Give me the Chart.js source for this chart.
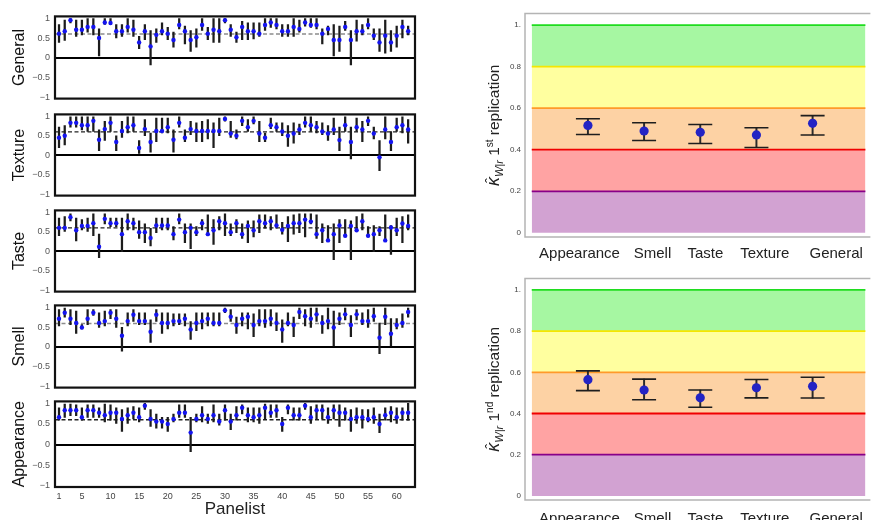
<!DOCTYPE html>
<html>
<head>
<meta charset="utf-8">
<script src="https://cdn.jsdelivr.net/npm/chart.js@4.4.0/dist/chart.umd.min.js"></script>
<style>
  html, body { margin: 0; padding: 0; background: #fff; overflow: hidden; }
  body { width: 879px; height: 520px; position: relative; }
  canvas { position: absolute; }
</style>
</head>
<body>
<canvas id="cGeneral" width="420" height="103" style="left:0;top:6px"></canvas>
<canvas id="cTexture" width="420" height="102" style="left:0;top:104px"></canvas>
<canvas id="cTaste" width="420" height="102" style="left:0;top:200px"></canvas>
<canvas id="cSmell" width="420" height="103" style="left:0;top:295px"></canvas>
<canvas id="cAppearance" width="420" height="129" style="left:0;top:391px"></canvas>
<canvas id="cRep1" width="419" height="265" style="left:460px;top:0"></canvas>
<canvas id="cRep2" width="419" height="255" style="left:460px;top:265px"></canvas>
<script>
// ---- data: kappa per panelist (point, lower, upper) ----
const panelists = Array.from({ length: 62 }, (_, i) => i + 1);
const panelistTicks = [1, 5, 10, 15, 20, 25, 30, 35, 40, 45, 50, 55, 60];
const kappaTicks = [-1, -0.5, 0, 0.5, 1];

const generalVal = [0.61,0.67,0.95,0.71,0.71,0.78,0.78,0.50,0.89,0.88,0.67,0.67,0.78,0.71,0.39,0.67,0.29,0.58,0.67,0.61,0.45,0.83,0.67,0.45,0.52,0.83,0.61,0.71,0.67,0.95,0.71,0.52,0.78,0.67,0.67,0.61,0.83,0.89,0.83,0.67,0.67,0.78,0.73,0.89,0.83,0.83,0.61,0.73,0.45,0.45,0.78,0.45,0.67,0.67,0.83,0.56,0.39,0.56,0.39,0.56,0.78,0.67];
const generalLo = [0.39,0.44,0.88,0.54,0.58,0.65,0.58,0.05,0.84,0.84,0.50,0.54,0.65,0.54,0.23,0.46,-0.18,0.39,0.58,0.46,0.27,0.73,0.35,0.16,0.27,0.69,0.46,0.39,0.39,0.88,0.54,0.39,0.46,0.46,0.48,0.54,0.69,0.77,0.73,0.54,0.54,0.54,0.65,0.80,0.77,0.73,0.35,0.58,0.05,0.16,0.69,-0.18,0.42,0.58,0.73,0.46,0.16,0.12,0.16,0.27,0.50,0.58];
const generalHi = [0.84,0.95,0.99,0.95,0.95,0.99,0.99,0.73,0.99,0.99,0.84,0.84,0.99,0.95,0.54,0.84,0.69,0.73,0.88,0.77,0.65,0.99,0.80,0.69,0.73,0.99,0.77,0.99,0.99,0.99,0.84,0.65,0.92,0.88,0.88,0.88,0.99,0.99,0.99,0.84,0.84,0.99,0.95,0.99,0.99,0.99,0.73,0.80,0.84,0.80,0.92,0.69,0.95,0.84,0.99,0.73,0.73,0.95,0.69,0.80,0.95,0.80];

const textureVal = [0.45,0.50,0.83,0.83,0.77,0.77,0.88,0.40,0.67,0.83,0.34,0.62,0.72,0.77,0.19,0.67,0.34,0.62,0.62,0.72,0.40,0.83,0.45,0.67,0.62,0.62,0.62,0.62,0.62,0.93,0.56,0.50,0.88,0.72,0.88,0.56,0.45,0.77,0.72,0.61,0.50,0.56,0.66,0.83,0.77,0.72,0.61,0.56,0.66,0.39,0.77,0.34,0.72,0.66,0.88,0.56,-0.05,0.66,0.34,0.72,0.77,0.66];
const textureLo = [0.20,0.27,0.72,0.72,0.65,0.61,0.61,0.12,0.38,0.61,0.12,0.46,0.57,0.61,0.05,0.50,0.08,0.35,0.57,0.57,0.08,0.72,0.35,0.53,0.35,0.35,0.42,0.20,0.50,0.87,0.46,0.42,0.76,0.61,0.80,0.35,0.35,0.68,0.61,0.50,0.23,0.31,0.53,0.72,0.61,0.57,0.53,0.38,0.53,0.12,0.61,-0.09,0.61,0.35,0.76,0.42,-0.39,0.42,0.12,0.61,0.57,0.31];
const textureHi = [0.72,0.76,0.98,0.98,0.98,0.98,0.98,0.65,0.87,0.98,0.50,0.87,0.98,0.98,0.38,0.91,0.57,0.95,0.95,0.95,0.65,0.98,0.65,0.87,0.83,0.87,0.91,0.83,0.95,0.98,0.87,0.65,0.98,0.91,0.98,0.87,0.57,0.95,0.83,0.83,0.76,0.83,0.80,0.98,0.98,0.87,0.83,0.76,0.95,0.72,0.98,0.72,0.95,0.87,0.98,0.72,0.38,0.98,0.61,0.95,0.98,0.91];

const tasteVal = [0.60,0.60,0.87,0.54,0.65,0.65,0.72,0.12,0.83,0.72,0.72,0.44,0.77,0.72,0.49,0.49,0.34,0.66,0.66,0.66,0.44,0.81,0.49,0.60,0.49,0.72,0.44,0.54,0.77,0.72,0.49,0.72,0.44,0.65,0.54,0.77,0.72,0.77,0.66,0.55,0.65,0.72,0.72,0.81,0.76,0.44,0.54,0.28,0.44,0.66,0.40,0.65,0.54,0.77,0.40,0.44,0.54,0.28,0.61,0.54,0.71,0.65];
const tasteLo = [0.40,0.51,0.78,0.27,0.55,0.51,0.40,-0.16,0.70,0.63,0.63,-0.01,0.55,0.55,0.33,0.22,0.14,0.48,0.55,0.55,0.29,0.70,0.22,0.07,0.40,0.55,0.44,0.18,0.55,0.40,0.40,0.48,0.33,0.22,0.37,0.48,0.59,0.55,0.59,0.44,0.25,0.44,0.48,0.37,0.70,0.33,0.22,0.25,-0.21,0.22,0.37,-0.21,0.51,0.55,0.37,-0.01,0.40,0.25,-0.08,0.40,0.22,0.55];
const tasteHi = [0.85,0.89,0.96,0.85,0.81,0.85,0.96,0.44,0.96,0.85,0.85,0.85,0.96,0.85,0.78,0.70,0.59,0.85,0.85,0.85,0.63,0.96,0.70,0.70,0.63,0.81,0.93,0.81,0.89,0.96,0.70,0.81,0.70,0.78,0.78,0.93,0.93,0.89,0.93,0.74,0.89,0.93,0.96,0.96,0.96,0.93,0.70,0.66,0.70,0.81,0.81,0.78,0.89,0.96,0.63,0.66,0.63,0.93,0.66,0.85,0.89,0.93];

const smellVal = [0.71,0.86,0.71,0.60,0.49,0.71,0.86,0.60,0.65,0.86,0.71,0.28,0.65,0.81,0.65,0.65,0.38,0.81,0.60,0.60,0.65,0.65,0.71,0.44,0.60,0.65,0.71,0.60,0.60,0.92,0.76,0.55,0.71,0.76,0.55,0.65,0.65,0.71,0.60,0.44,0.60,0.55,0.88,0.77,0.71,0.82,0.60,0.65,0.49,0.71,0.82,0.55,0.82,0.65,0.65,0.77,0.23,0.76,0.33,0.55,0.60,0.88];
const smellLo = [0.53,0.75,0.56,0.34,0.45,0.56,0.79,0.49,0.53,0.71,0.49,-0.11,0.53,0.64,0.56,0.56,0.11,0.64,0.34,0.45,0.53,0.56,0.53,0.19,0.41,0.45,0.53,0.53,0.53,0.86,0.64,0.34,0.53,0.45,0.26,0.53,0.49,0.53,0.41,0.11,0.53,0.26,0.71,0.53,0.49,0.64,0.34,0.45,0.00,0.56,0.68,0.26,0.68,0.56,0.49,0.64,-0.17,0.56,0.00,0.45,0.49,0.75];
const smellHi = [0.94,0.98,0.94,0.90,0.56,0.94,0.94,0.86,0.90,0.94,0.94,0.49,0.86,0.94,0.86,0.86,0.68,0.94,0.86,0.86,0.83,0.83,0.83,0.64,0.86,0.86,0.86,0.86,0.86,0.98,0.94,0.75,0.86,0.86,0.83,0.94,0.94,0.94,0.86,0.68,0.86,0.75,0.98,0.94,0.98,0.98,0.79,0.98,0.90,0.86,0.98,0.79,0.94,0.86,0.94,0.98,0.60,0.98,0.71,0.71,0.83,0.98];

const appearanceVal = [0.66,0.83,0.83,0.83,0.66,0.83,0.83,0.77,0.71,0.77,0.77,0.62,0.71,0.77,0.66,0.94,0.62,0.56,0.56,0.50,0.62,0.77,0.77,0.29,0.62,0.71,0.62,0.71,0.56,0.83,0.56,0.71,0.89,0.71,0.66,0.71,0.89,0.77,0.83,0.50,0.89,0.71,0.71,0.94,0.66,0.83,0.83,0.66,0.83,0.77,0.77,0.62,0.66,0.66,0.62,0.66,0.50,0.71,0.77,0.66,0.77,0.77];
const appearanceLo = [0.59,0.66,0.70,0.70,0.59,0.66,0.66,0.66,0.55,0.59,0.51,0.32,0.51,0.62,0.55,0.85,0.44,0.40,0.40,0.32,0.55,0.66,0.66,-0.17,0.55,0.55,0.51,0.55,0.47,0.59,0.36,0.59,0.74,0.55,0.55,0.51,0.62,0.66,0.66,0.32,0.74,0.59,0.59,0.85,0.51,0.62,0.62,0.51,0.62,0.44,0.59,0.32,0.51,0.40,0.55,0.51,0.29,0.59,0.55,0.51,0.59,0.59];
const appearanceHi = [0.89,0.98,0.98,0.96,0.89,0.96,0.96,0.89,0.98,0.96,0.89,0.85,0.89,0.92,0.89,1.00,0.85,0.74,0.66,0.66,0.74,0.96,0.96,0.66,0.74,0.92,0.74,0.96,0.74,0.96,0.74,0.92,0.96,0.89,0.89,0.89,0.98,0.96,0.96,0.66,0.96,0.89,0.89,1.00,0.92,0.96,0.96,0.89,0.96,0.96,0.89,0.85,0.89,0.85,0.85,0.89,0.74,0.89,0.92,0.89,0.89,1.00];

// overall mean kappa per attribute (dashed line)
const meanGeneral = 0.6, meanTexture = 0.6, meanTaste = 0.6, meanSmell = 0.59, meanAppearance = 0.6;

// ---- data: overall kappa per replication ----
const attributes = ["Appearance", "Smell", "Taste", "Texture", "General"];
const rep1Val = [0.517, 0.490, 0.484, 0.471, 0.527];
const rep1Lo = [0.473, 0.444, 0.430, 0.411, 0.471];
const rep1Hi = [0.549, 0.530, 0.521, 0.506, 0.564];
const rep2Val = [0.564, 0.514, 0.476, 0.525, 0.532];
const rep2Lo = [0.511, 0.467, 0.430, 0.476, 0.475];
const rep2Hi = [0.607, 0.567, 0.514, 0.565, 0.576];
const bandLimits = [1, 0.8, 0.6, 0.4, 0.2, 0];
const repTicks = [0, 0.2, 0.4, 0.6, 0.8, 1];

// styling
const FONT = "'Liberation Sans', Arial, sans-serif";
Chart.defaults.font.family = FONT;
Chart.defaults.animation = false;
const bandFill = ["#a6f7a2", "#ffff9f", "#fdd2a4", "#ffa3a3", "#d2a2d2"];
const bandLine = ["#1fdc1f", "#f5e600", "#ff9a2a", "#f00000", "#880088", "rgba(0,0,0,0)"];
const labelPos = [0.85, 2.15, 3.09, 4.15, 5.42];

const framePlugin = {
  id: "frame",
  afterDatasetsDraw(chart, args, opts) {
    const { ctx, chartArea: a } = chart;
    ctx.save();
    ctx.strokeStyle = opts.color;
    ctx.lineWidth = opts.width;
    if (opts.open) {
      ctx.beginPath();
      ctx.moveTo(a.right + 5, a.top);
      ctx.lineTo(a.left, a.top);
      ctx.lineTo(a.left, a.bottom);
      ctx.lineTo(a.right + 5, a.bottom);
      ctx.stroke();
    } else {
      ctx.strokeRect(a.left, a.top, a.right - a.left, a.bottom - a.top);
    }
    ctx.restore();
  },
};

const kappaTitle = {
  id: "kappaTitle",
  afterDraw(chart, args, opts) {
    const { ctx, chartArea: a } = chart;
    const parts = [
      { t: "\u03BA", f: "italic 18px " + FONT, dy: 0 },
      { t: "W|r", f: "italic 11px " + FONT, dy: 4 },
      { t: " 1", f: "15.5px " + FONT, dy: 0 },
      { t: opts.sup, f: "10px " + FONT, dy: -6 },
      { t: " replication", f: "15.5px " + FONT, dy: 0 },
    ];
    ctx.save();
    ctx.translate(opts.x, (a.top + a.bottom) / 2);
    ctx.rotate(-Math.PI / 2);
    let total = 0;
    parts.forEach((p) => { ctx.font = p.f; p.w = ctx.measureText(p.t).width; total += p.w; });
    let cx = -total / 2;
    ctx.fillStyle = "#222";
    ctx.textBaseline = "alphabetic";
    parts.forEach((p, i) => {
      ctx.font = p.f;
      ctx.fillText(p.t, cx, p.dy);
      if (i === 0) {
        ctx.font = "15px " + FONT;
        const hw = ctx.measureText("\u02C6").width;
        ctx.fillText("\u02C6", cx + (p.w - hw) / 2 + 1, -3);
      }
      cx += p.w;
    });
    ctx.restore();
  },
};

function panelistChart(id, title, vals, lo, hi, mean, meanColor, showX) {
  const ctx = document.getElementById(id).getContext("2d");
  return new Chart(ctx, {
    type: "scatter",
    data: {
      datasets: [
        {
          type: "scatter",
          data: panelists.map((p, i) => ({ x: p, y: vals[i] })),
          pointRadius: 2.2,
          pointBackgroundColor: "#1414f0",
          pointBorderWidth: 0,
          order: 0,
        },
        {
          type: "bar",
          data: panelists.map((p, i) => ({ x: p, y: [lo[i], hi[i]] })),
          backgroundColor: "#1c1c1c",
          barThickness: 1.6,
          order: 1,
        },
        {
          type: "line",
          data: [{ x: 0.3, y: mean }, { x: 63.2, y: mean }],
          borderColor: meanColor,
          borderWidth: 1.4,
          borderDash: [4, 2.5],
          pointRadius: 0,
          order: 2,
        },
      ],
    },
    options: {
      responsive: false,
      layout: { padding: { top: 6, bottom: showX ? 0 : 6, left: 0, right: 5 } },
      plugins: {
        legend: { display: false },
        tooltip: { enabled: false },
        frame: { color: "#111", width: 2.2 },
      },
      scales: {
        x: {
          type: "linear",
          min: 0.3,
          max: 63.2,
          offset: false,
          display: showX,
          grid: { display: false, drawTicks: false },
          border: { display: false },
          afterBuildTicks: (s) => { s.ticks = panelistTicks.map((v) => ({ value: v })); },
          afterFit: (s) => { s.height = showX ? 33 : 0; },
          ticks: { font: { size: 9 }, color: "#444", padding: 4, maxRotation: 0, autoSkip: false },
          title: { display: true, text: "Panelist", font: { size: 17 }, color: "#222", padding: { top: 0, bottom: 0 } },
        },
        y: {
          min: -1.025,
          max: 1.045,
          afterBuildTicks: (s) => { s.ticks = kappaTicks.map((v) => ({ value: v })); },
          afterFit: (s) => { s.width = 55; },
          grid: {
            color: (c) => (c.tick && c.tick.value === 0 ? "#000" : "rgba(0,0,0,0)"),
            lineWidth: 2,
            drawTicks: false,
          },
          border: { display: false },
          ticks: {
            font: { size: 9 },
            color: "#555",
            padding: 5,
            autoSkip: false,
            callback: (v) => (v < 0 ? "\u2212" + Math.abs(v) : String(v)),
          },
          title: { display: true, text: title, font: { size: 16 }, color: "#111", padding: { top: 10, bottom: 0 } },
        },
      },
    },
    plugins: [framePlugin],
  });
}

function replicationChart(id, vals, lo, hi, sup, padTop, axisH, tickPad) {
  const ctx = document.getElementById(id).getContext("2d");
  const bands = bandLimits.map((t, i) => ({
    type: "line",
    data: [{ x: 0, y: t }, { x: 6.2, y: t }],
    borderColor: bandLine[i],
    borderWidth: i < 5 ? 1.8 : 0,
    backgroundColor: bandFill[i] || "rgba(0,0,0,0)",
    fill: i < 5 ? "+1" : false,
    pointRadius: 0,
    order: 10,
  }));
  const xs = attributes.map((_, i) => i + 1);
  return new Chart(ctx, {
    type: "scatter",
    data: {
      datasets: [
        {
          type: "scatter",
          data: xs.map((x, i) => ({ x: x, y: vals[i] })),
          pointRadius: 4.6,
          pointBackgroundColor: "#2323c4",
          pointBorderWidth: 0,
          order: 0,
        },
        {
          type: "scatter",
          data: xs.map((x, i) => ({ x: x, y: lo[i] })),
          pointStyle: "line",
          pointRadius: 12,
          pointBorderColor: "#1e1e1e",
          pointBorderWidth: 1.6,
          order: 1,
        },
        {
          type: "scatter",
          data: xs.map((x, i) => ({ x: x, y: hi[i] })),
          pointStyle: "line",
          pointRadius: 12,
          pointBorderColor: "#1e1e1e",
          pointBorderWidth: 1.6,
          order: 1,
        },
        {
          type: "bar",
          data: xs.map((x, i) => ({ x: x, y: [lo[i], hi[i]] })),
          backgroundColor: "#2a2a2a",
          barThickness: 1.3,
          order: 2,
        },
        ...bands,
      ],
    },
    options: {
      responsive: false,
      layout: { padding: { top: padTop, bottom: 0, left: 0, right: 0 } },
      plugins: {
        legend: { display: false },
        tooltip: { enabled: false },
        filler: { drawTime: "beforeDatasetsDraw" },
        frame: { color: "#b4b4b4", width: 1.5, open: true },
        kappaTitle: { x: 39, sup: sup },
      },
      scales: {
        x: {
          type: "linear",
          min: -0.12,
          max: 5.94,
          offset: false,
          grid: { display: false, drawTicks: false },
          border: { display: false },
          afterBuildTicks: (s) => { s.ticks = labelPos.map((v) => ({ value: v })); },
          afterFit: (s) => { s.height = axisH; },
          ticks: {
            font: { size: 15 },
            color: "#222",
            padding: tickPad,
            maxRotation: 0,
            autoSkip: false,
            callback: (v, i) => attributes[i],
          },
        },
        y: {
          min: -0.02,
          max: 1.055,
          afterBuildTicks: (s) => { s.ticks = repTicks.map((v) => ({ value: v })); },
          afterFit: (s) => { s.width = 65; },
          grid: { display: false, drawTicks: false },
          border: { display: false },
          ticks: {
            font: { size: 8 },
            color: "#444",
            padding: 4,
            autoSkip: false,
            callback: (v) => (v === 1 ? "1." : String(v)),
          },
        },
      },
    },
    plugins: [framePlugin, kappaTitle],
  });
}

const chartGeneral = panelistChart("cGeneral", "General", generalVal, generalLo, generalHi, meanGeneral, "#8c8c8c", false);
const chartTexture = panelistChart("cTexture", "Texture", textureVal, textureLo, textureHi, meanTexture, "#222", false);
const chartTaste = panelistChart("cTaste", "Taste", tasteVal, tasteLo, tasteHi, meanTaste, "#222", false);
const chartSmell = panelistChart("cSmell", "Smell", smellVal, smellLo, smellHi, meanSmell, "#8c8c8c", false);
const chartAppearance = panelistChart("cAppearance", "Appearance", appearanceVal, appearanceLo, appearanceHi, meanAppearance, "#222", true);

const chartRep1 = replicationChart("cRep1", rep1Val, rep1Lo, rep1Hi, "st", 12, 28, 8);
const chartRep2 = replicationChart("cRep2", rep2Val, rep2Lo, rep2Hi, "nd", 11, 20, 10);
</script>
</body>
</html>
